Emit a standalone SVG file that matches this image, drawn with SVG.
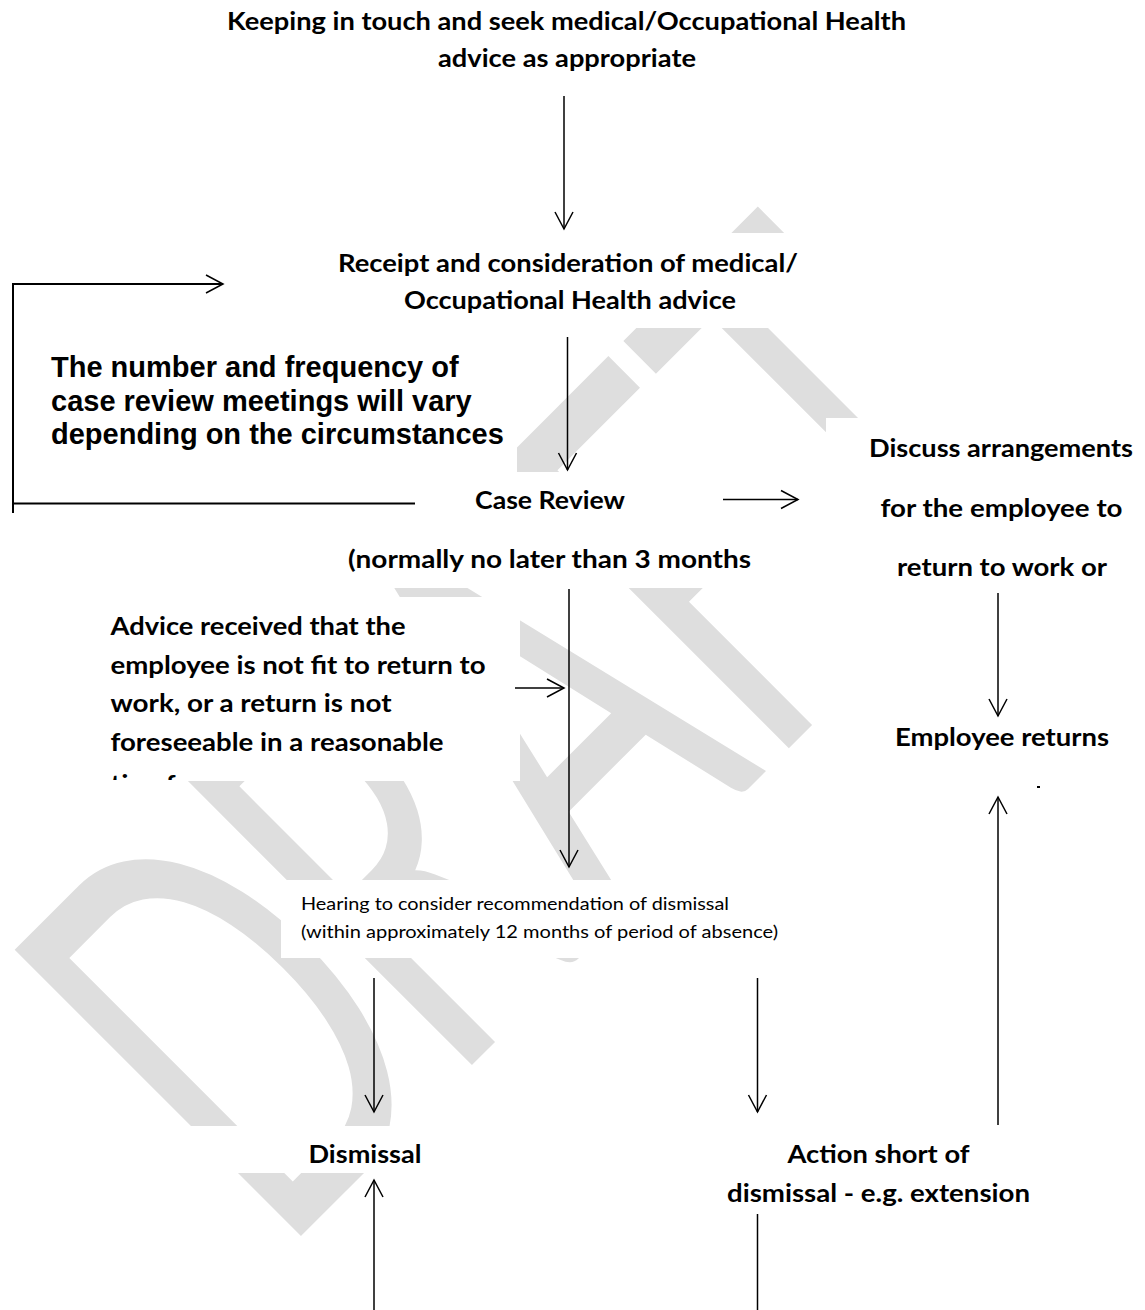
<svg xmlns="http://www.w3.org/2000/svg" width="1145" height="1310" viewBox="0 0 1145 1310">
<style>
.b{font-family:Lato,"Open Sans","Liberation Sans",sans-serif;font-weight:700;font-size:25px;fill:#000}
.r{font-family:Lato,"Open Sans","Liberation Sans",sans-serif;font-weight:400;font-size:18px;fill:#000}
.a{font-family:"Liberation Sans",Arial,sans-serif;font-weight:700;font-size:29px;fill:#000}
.bx{fill:#fff}
.ln{stroke:#000;stroke-width:1.5;fill:none}
.lp{stroke:#000;stroke-width:2;fill:none}
.wm{font-family:Lato,"Open Sans",sans-serif;font-weight:400;font-size:565px;fill:#dedede}
</style>
<defs>
<marker id="ah" markerUnits="userSpaceOnUse" viewBox="-20 -12 24 24" markerWidth="24" markerHeight="24" refX="0" refY="0" orient="auto">
<path d="M-17,-9 L0,0 L-17,9" fill="none" stroke="#000" stroke-width="1.5"/>
</marker>
<clipPath id="cl5"><rect x="90" y="597" width="430" height="183"/></clipPath>
</defs>
<rect width="1145" height="1310" fill="#fff"/>
<g id="watermark" transform="translate(279,1258) rotate(-45) scale(0.6,1)">
<text class="wm" x="0 403 767 1150 1478" y="0">DRAFT</text>
</g>
<g id="n_keep">
<rect class="bx" x="200" y="0" width="740" height="80"/>
<text class="b" x="227" y="29.5" textLength="679" lengthAdjust="spacingAndGlyphs">Keeping in touch and seek medical/Occupational Health</text>
<text class="b" x="438" y="67" textLength="258" lengthAdjust="spacingAndGlyphs">advice as appropriate</text>
</g>
<g id="n_receipt">
<rect class="bx" x="320" y="233" width="500" height="95"/>
<text class="b" x="338" y="271.5" textLength="460" lengthAdjust="spacingAndGlyphs">Receipt and consideration of medical/</text>
<text class="b" x="404" y="308.5" textLength="332" lengthAdjust="spacingAndGlyphs">Occupational Health advice</text>
</g>
<g id="n_note">
<rect class="bx" x="40" y="340" width="477" height="132"/>
<text class="a" x="51" y="377">The number and frequency of</text>
<text class="a" x="51" y="410.5">case review meetings will vary</text>
<text class="a" x="51" y="444">depending on the circumstances</text>
</g>
<g id="n_case">
<rect class="bx" x="340" y="472" width="486" height="116"/>
<text class="b" x="475" y="508.5" textLength="150" lengthAdjust="spacingAndGlyphs">Case Review</text>
<text class="b" x="348" y="568" textLength="403" lengthAdjust="spacingAndGlyphs">(normally no later than 3 months</text>
</g>
<g id="n_discuss">
<rect class="bx" x="826" y="418" width="319" height="172"/>
<text class="b" x="869" y="457" textLength="264" lengthAdjust="spacingAndGlyphs">Discuss arrangements</text>
<text class="b" x="880.5" y="517" textLength="242" lengthAdjust="spacingAndGlyphs">for the employee to</text>
<text class="b" x="897" y="576" textLength="210" lengthAdjust="spacingAndGlyphs">return to work or</text>
</g>
<g id="n_advice">
<rect class="bx" x="90" y="597" width="430" height="184"/>
<text class="b" x="110.5" y="635" textLength="295" lengthAdjust="spacingAndGlyphs">Advice received that the</text>
<text class="b" x="110.5" y="673.5" textLength="375" lengthAdjust="spacingAndGlyphs">employee is not fit to return to</text>
<text class="b" x="110.5" y="712" textLength="281" lengthAdjust="spacingAndGlyphs">work, or a return is not</text>
<text class="b" x="110.5" y="751" textLength="333" lengthAdjust="spacingAndGlyphs">foreseeable in a reasonable</text>
<text class="b" x="110.5" y="793" textLength="127" lengthAdjust="spacingAndGlyphs" clip-path="url(#cl5)">timeframe</text>
</g>
<g id="n_returns">
<rect class="bx" x="826" y="690" width="319" height="100"/>
<text class="b" x="895" y="745.5" textLength="214" lengthAdjust="spacingAndGlyphs">Employee returns</text>
<rect x="1037" y="786" width="3" height="2" fill="#000"/>
</g>
<g id="n_hearing">
<rect class="bx" x="281" y="880" width="359" height="78"/>
<text class="r" x="301" y="910" textLength="428" lengthAdjust="spacingAndGlyphs">Hearing to consider recommendation of dismissal</text>
<text class="r" x="301" y="937.5" textLength="477" lengthAdjust="spacingAndGlyphs">(within approximately 12 months of period of absence)</text>
</g>
<g id="n_dismissal">
<rect class="bx" x="150" y="1126" width="310" height="47"/>
<text class="b" x="308.5" y="1163" textLength="113" lengthAdjust="spacingAndGlyphs">Dismissal</text>
</g>
<g id="n_action">
<rect class="bx" x="700" y="1132" width="360" height="80"/>
<text class="b" x="787.5" y="1163" textLength="182" lengthAdjust="spacingAndGlyphs">Action short of</text>
<text class="b" x="727" y="1201.5" textLength="303" lengthAdjust="spacingAndGlyphs">dismissal - e.g. extension</text>
</g>
<g id="connectors">
<line class="ln" x1="564" y1="96" x2="564" y2="229" marker-end="url(#ah)"/>
<line class="ln" x1="567.5" y1="337" x2="567.5" y2="470" marker-end="url(#ah)"/>
<line class="lp" x1="415" y1="503.5" x2="13" y2="503.5"/>
<path class="lp" d="M13,513 V284 H223" marker-end="url(#ah)"/>
<line class="ln" x1="723" y1="499.5" x2="798" y2="499.5" marker-end="url(#ah)"/>
<line class="ln" x1="569" y1="589" x2="569" y2="867" marker-end="url(#ah)"/>
<line class="ln" x1="515" y1="688" x2="564" y2="688" marker-end="url(#ah)"/>
<line class="ln" x1="998" y1="593" x2="998" y2="716" marker-end="url(#ah)"/>
<line class="ln" x1="998" y1="1125" x2="998" y2="797" marker-end="url(#ah)"/>
<line class="ln" x1="374" y1="978" x2="374" y2="1112" marker-end="url(#ah)"/>
<line class="ln" x1="757.5" y1="978" x2="757.5" y2="1112" marker-end="url(#ah)"/>
<line class="ln" x1="374" y1="1310" x2="374" y2="1180" marker-end="url(#ah)"/>
<line class="ln" x1="757.5" y1="1214" x2="757.5" y2="1310"/>
</g>
</svg>
